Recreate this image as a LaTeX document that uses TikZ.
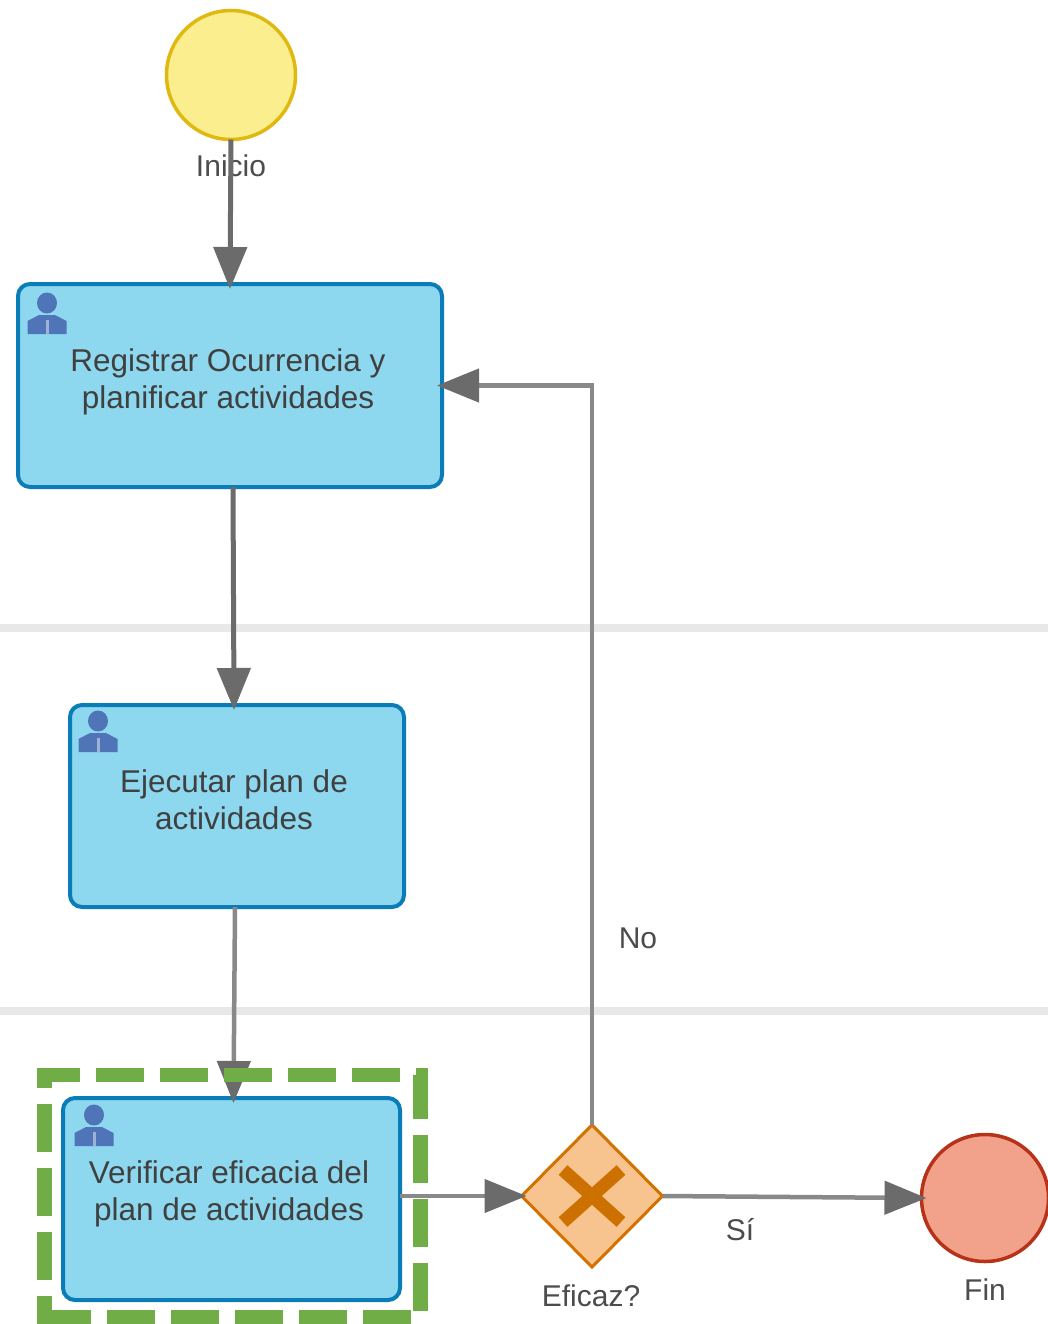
\documentclass[tikz,border=0pt]{standalone}
\usepackage{fontspec}
\setmainfont{Liberation Sans}
\usetikzlibrary{arrows.meta,shapes.geometric}
\definecolor{taskfill}{HTML}{8DD8EE}
\definecolor{taskline}{HTML}{0A7DB8}
\definecolor{flowgray}{HTML}{6B6B6B}
\definecolor{iconblue}{HTML}{4F74B8}
\definecolor{iniciofill}{HTML}{FBEE8F}
\definecolor{inicioline}{HTML}{E0B910}
\definecolor{finfill}{HTML}{F2A28A}
\definecolor{finline}{HTML}{B8321A}
\definecolor{gatefill}{HTML}{F7C48F}
\definecolor{gateline}{HTML}{CC7000}
\definecolor{marcaverde}{HTML}{70AD47}
\tikzset{
  tarea/.style={draw=taskline, fill=taskfill, line width=4pt, rounded corners=12pt, outer sep=0pt, inner sep=0pt},
  texto/.style={font=\fontsize{31.5}{37}\selectfont, text=black!75, align=center, inner sep=0pt},
  etiqueta/.style={font=\fontsize{30}{34}\selectfont, text=black!70, inner sep=0pt},
  flujo/.style={draw=flowgray, line width=5pt, -{Triangle[length=42pt,width=33pt,color=flowgray]}, shorten >=-5pt},
  flujofino/.style={flujo, draw=flowgray!80, line width=4.5pt},
  marca/.style={marcaverde, line width=14.5pt, dash pattern=on 48pt off 16pt},
  persona/.pic={
    \fill[iconblue] (0,-31) ellipse (10 and 10.5);
    \fill[iconblue] (-19.5,0) -- (-19.5,-13) -- (-8,-19) -- (8,-19) -- (19.5,-13) -- (19.5,0) -- cycle;
    \draw[iconblue!55, line width=3pt] (0,-14) -- (0,0);
  }
}
\begin{document}
\begin{tikzpicture}[x=1pt,y=-1pt]
  \useasboundingbox[fill=white] (0,0) rectangle (1048,1324);

  % Carriles
  \draw[black!9, line width=8pt] (0,628) -- (1048,628);
  \draw[black!9, line width=8pt] (0,1011) -- (1048,1011);

  % Eventos
  \node[circle, draw=inicioline, fill=iniciofill, line width=3.5pt, minimum size=129pt, outer sep=0pt, inner sep=0pt] (inicio) at (231,75) {};
  \node[circle, draw=finline, fill=finfill, line width=3.5pt, minimum size=127pt, outer sep=0pt, inner sep=0pt] (fin) at (985,1198) {};
  \node[etiqueta] (lblinicio) at (231,166) {Inicio};
  \node[etiqueta] (lblfin) at (985,1290) {Fin};

  % Tareas
  \node[tarea, minimum width=424pt, minimum height=203pt] (registrar) at (230,385.5) {};
  \node[tarea, minimum width=334pt, minimum height=202pt] (ejecutar) at (237,806) {};
  \node[tarea, minimum width=337pt, minimum height=202pt] (verificar) at (231.5,1199) {};
  \node[texto] (txtregistrar) at (228,382) {Registrar Ocurrencia y\\planificar actividades};
  \node[texto] (txtejecutar) at (234,800) {Ejecutar plan de\\actividades};
  \node[texto] (txtverificar) at (229,1194) {Verificar eficacia del\\plan de actividades};
  \pic at (47,334) {persona};
  \pic at (98,752) {persona};
  \pic at (94,1146) {persona};

  % Compuerta
  \node[diamond, draw=gateline!85!orange, fill=gatefill, line width=3pt, minimum width=141pt, minimum height=142pt, outer sep=0pt, inner sep=0pt] (eficaz) at (592,1196) {};
  \draw[gateline, line width=13pt] (563,1170) -- (621,1222);
  \draw[gateline, line width=13pt] (621,1170) -- (563,1222);
  \node[etiqueta] (lbleficaz) at (591,1296) {Eficaz?};

  % Flujos
  \draw[flujo] (inicio.south) -- (registrar.north);
  \draw[flujo] ([xshift=3pt]registrar.south) -- ([xshift=-3pt]ejecutar.north);
  \draw[flujofino] ([xshift=-2pt]ejecutar.south) -- ([xshift=2pt]verificar.north);

  % Marca
  \draw[marca, dash phase=5pt] (37,1075) -- (420.5,1075) -- (420.5,1317) -- (44.5,1317);
  \draw[marca] (44.5,1104) -- (44.5,1324);
  \draw[marcaverde, line width=14.5pt] (44.5,1075) -- (44.5,1088);

  \draw[flujofino] ([yshift=3pt]verificar.east) -- (eficaz.west);
  \draw[flujofino] (eficaz.east) -- (fin.west);
  \draw[flujofino] (eficaz.north) |- (registrar.east);
  \node[etiqueta] (lblno) at (638,938) {No};
  \node[etiqueta] (lblsi) at (740,1230) {Sí};
\end{tikzpicture}
\end{document}
